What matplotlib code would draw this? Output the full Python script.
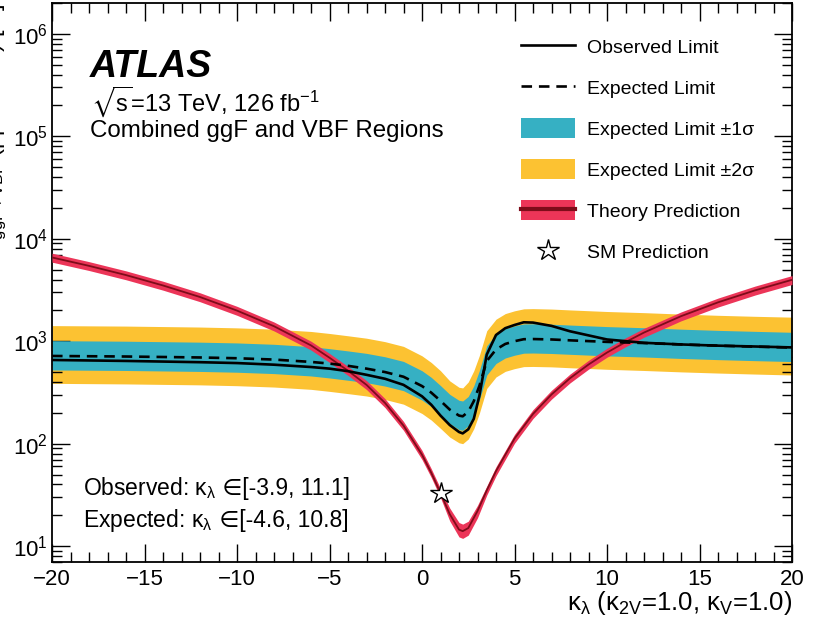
import numpy as np
import matplotlib
matplotlib.use('Agg')
import matplotlib.pyplot as plt
import matplotlib.ticker as mticker
from matplotlib.lines import Line2D
from matplotlib.patches import Patch

plt.rcParams['font.family'] = ['Liberation Sans', 'DejaVu Sans']
plt.rcParams['mathtext.fontset'] = 'custom'
plt.rcParams['mathtext.rm'] = 'Liberation Sans'
plt.rcParams['mathtext.it'] = 'Liberation Sans:italic'
plt.rcParams['mathtext.bf'] = 'Liberation Sans:bold'
plt.rcParams['mathtext.sf'] = 'Liberation Sans'
plt.rcParams['mathtext.fallback'] = 'stixsans'

# ---- limits vs kappa_lambda ----
kappa = [-20, -16, -12, -10, -8, -6, -5, -4, -3, -2, -1, 0, 0.5, 1, 1.5,
         2, 2.2, 2.5, 2.8, 3.1, 3.5, 4, 4.5, 5, 5.5, 6, 7, 8, 10, 12, 14,
         16, 18, 20]
observed = [656, 642, 624, 612, 590, 560, 540, 510, 470, 430, 375, 290, 240,
            188, 152, 130, 126, 138, 175, 292, 740, 1150, 1340, 1440, 1530,
            1520, 1411, 1250, 1040, 965, 930, 905, 888, 870]
expected = [718, 709, 694, 682, 662, 628, 605, 575, 540, 500, 450, 365, 315,
            262, 215, 188, 185, 205, 260, 366, 640, 830, 940, 1000, 1046,
            1050, 1040, 1020, 985, 960, 930, 905, 885, 867]
exp_p2 = [1420, 1405, 1375, 1350, 1310, 1245, 1190, 1130, 1070, 990, 890,
          720, 620, 515, 410, 355, 350, 400, 515, 725, 1265, 1640, 1860,
          1980, 2070, 2080, 2060, 2020, 1950, 1900, 1840, 1790, 1750, 1717]
exp_p1 = [1012, 1000, 979, 962, 933, 885, 846, 804, 761, 705, 635, 515, 444,
          369, 303, 265, 261, 289, 367, 516, 902, 1170, 1325, 1410, 1475,
          1480, 1466, 1438, 1389, 1354, 1311, 1276, 1248, 1222]
exp_m1 = [524, 518, 507, 498, 483, 458, 438, 416, 394, 365, 329, 266, 230,
          191, 157, 137, 135, 150, 190, 267, 467, 606, 686, 730, 764, 767,
          759, 745, 719, 701, 679, 661, 646, 633]
exp_m2 = [388, 383, 375, 368, 357, 339, 324, 308, 292, 270, 243, 197, 170,
          141, 116, 102, 100, 111, 140, 198, 346, 448, 508, 540, 565, 567,
          562, 551, 532, 518, 502, 489, 478, 468]

# ---- theory prediction ----
kappa_th = [-20, -18, -16, -14, -12, -10, -8, -6, -5, -4, -3, -2, -1, 0, 0.5,
            1, 1.5, 2, 2.2, 2.5, 3, 3.5, 4, 5, 6, 7, 8, 9, 10, 11, 12, 14,
            16, 18, 20]
theory = [6570, 5440, 4420, 3500, 2700, 1990, 1400, 910, 690, 515, 375, 250,
          150, 78, 52, 33, 20.5, 14.5, 14, 15, 22, 35, 54, 112, 195, 302, 435,
          592, 775, 980, 1215, 1755, 2395, 3135, 3975]
theory_up = [7230, 5980, 4860, 3850, 2970, 2190, 1540, 1000, 760, 567, 413,
             275, 165, 86, 57, 36.5, 23.5, 17.0, 16.4, 17.5, 25, 38.5, 59.5,
             123, 215, 332, 478, 651, 853, 1078, 1337, 1930, 2635, 3450, 4370]
theory_dn = [5910, 4900, 3980, 3150, 2430, 1790, 1260, 820, 621, 464, 338,
             225, 135, 70, 46.8, 29.7, 17.6, 12.3, 11.9, 12.8, 18.9, 31.5,
             48.6, 101, 176, 272, 392, 533, 698, 882, 1094, 1580, 2156, 2822,
             3578]

sm_kappa = 1.0
sm_xsec = 33.0

c_teal = '#36b0c3'
c_yellow = '#fcc232'
c_red = '#ec3558'
c_dark = '#7e0c1a'

fig = plt.figure(figsize=(8.25, 6.21), dpi=100)
ax = fig.add_axes([52 / 825, 1 - 562 / 621, 740 / 825, 559 / 621])

ax.fill_between(kappa, exp_m2, exp_p2, color=c_yellow, lw=0, zorder=1)
ax.fill_between(kappa, exp_m1, exp_p1, color=c_teal, lw=0, zorder=2)
ax.fill_between(kappa_th, theory_dn, theory_up, color=c_red, lw=0, zorder=3)
ax.plot(kappa_th, theory, color=c_dark, lw=1.3, zorder=4)
ax.plot(kappa, expected, color='black', lw=1.9, ls=(0, (4, 2.6)), zorder=5)
ax.plot(kappa, observed, color='black', lw=1.9, zorder=6)
ax.plot([sm_kappa], [sm_xsec], marker='*', ms=16, mfc='white', mec='black',
        mew=1.0, ls='none', zorder=7)

ax.set_yscale('log')
ax.set_xlim(-20, 20)
ax.set_ylim(7, 2e6)

ax.xaxis.set_major_locator(mticker.MultipleLocator(5))
ax.xaxis.set_minor_locator(mticker.MultipleLocator(1))
ax.yaxis.set_major_locator(mticker.LogLocator(base=10, numticks=12))
ax.yaxis.set_minor_locator(mticker.LogLocator(base=10, subs=np.arange(2, 10),
                                              numticks=12))
ax.yaxis.set_minor_formatter(mticker.NullFormatter())
ax.tick_params(which='both', direction='in', top=True, right=True, width=1.0)
ax.tick_params(which='major', length=13, labelsize=16)
ax.tick_params(axis='x', which='major', pad=5)
ax.tick_params(axis='y', which='major', pad=3)
ax.tick_params(which='minor', length=7)
for s in ax.spines.values():
    s.set_linewidth(1.3)

ax.set_xlabel('κ$_{\\mathrm{λ}}$ (κ$_{\\mathrm{2V}}$=1.0, κ$_{\\mathrm{V}}$=1.0)',
              fontsize=18.5, loc='right', va='center')
ax.xaxis.set_label_coords(1.0, -0.073)
fig.text(9 / 825, 0.995, 'σ$_{\\mathrm{ggF+VBF}}$ (pp → HH) [fb]',
         rotation=90, ha='right', va='top', fontsize=17)

fig.text(90 / 825, 1 - 67 / 621, 'ATLAS', fontsize=27, fontweight='bold',
         fontstyle='italic', va='center')
fig.text(91 / 825, 1 - 102 / 621, '$\\sqrt{\\mathrm{s}}$=13 TeV, 126 fb$^{-1}$',
         fontsize=17, va='center')
fig.text(90 / 825, 1 - 131 / 621, 'Combined ggF and VBF Regions',
         fontsize=17.4, va='center')

# limit ranges: the "element of" sign is drawn as plain text so that
# the font fallback (DejaVu Sans) can supply it
for ypix, lead, rng in [(488, 'Observed: ', '[-3.9, 11.1]'),
                        (521, 'Expected: ', '[-4.6, 10.8]')]:
    t1 = fig.text(83 / 825, 1 - ypix / 621, lead + 'κ$_{\\mathrm{λ}}$',
                  fontsize=16.5, va='center')
    ax.annotate(' ∈' + rng, xy=(1.0, 0.5), xycoords=t1, fontsize=16.5,
                va='center', ha='left', annotation_clip=False)

handles = [
    Line2D([], [], color='black', lw=1.9),
    Line2D([], [], color='black', lw=1.9, ls=(0, (4, 2.6))),
    Patch(facecolor=c_teal, lw=0),
    Patch(facecolor=c_yellow, lw=0),
    (Patch(facecolor=c_red, lw=0), Line2D([], [], color=c_dark, lw=3)),
    Line2D([], [], marker='*', ms=16, mfc='white', mec='black', mew=1.0,
           ls='none'),
]
labels = ['Observed Limit', 'Expected Limit', 'Expected Limit ±1σ',
          'Expected Limit ±2σ', 'Theory Prediction', 'SM Prediction']
ax.legend(handles, labels, loc='upper left', bbox_to_anchor=(0.634, 0.94),
          frameon=False, fontsize=14, handlelength=2.75, handleheight=1.2,
          handletextpad=0.65, labelspacing=1.05, borderpad=0,
          borderaxespad=0)

fig.savefig('out.png', dpi=100)
